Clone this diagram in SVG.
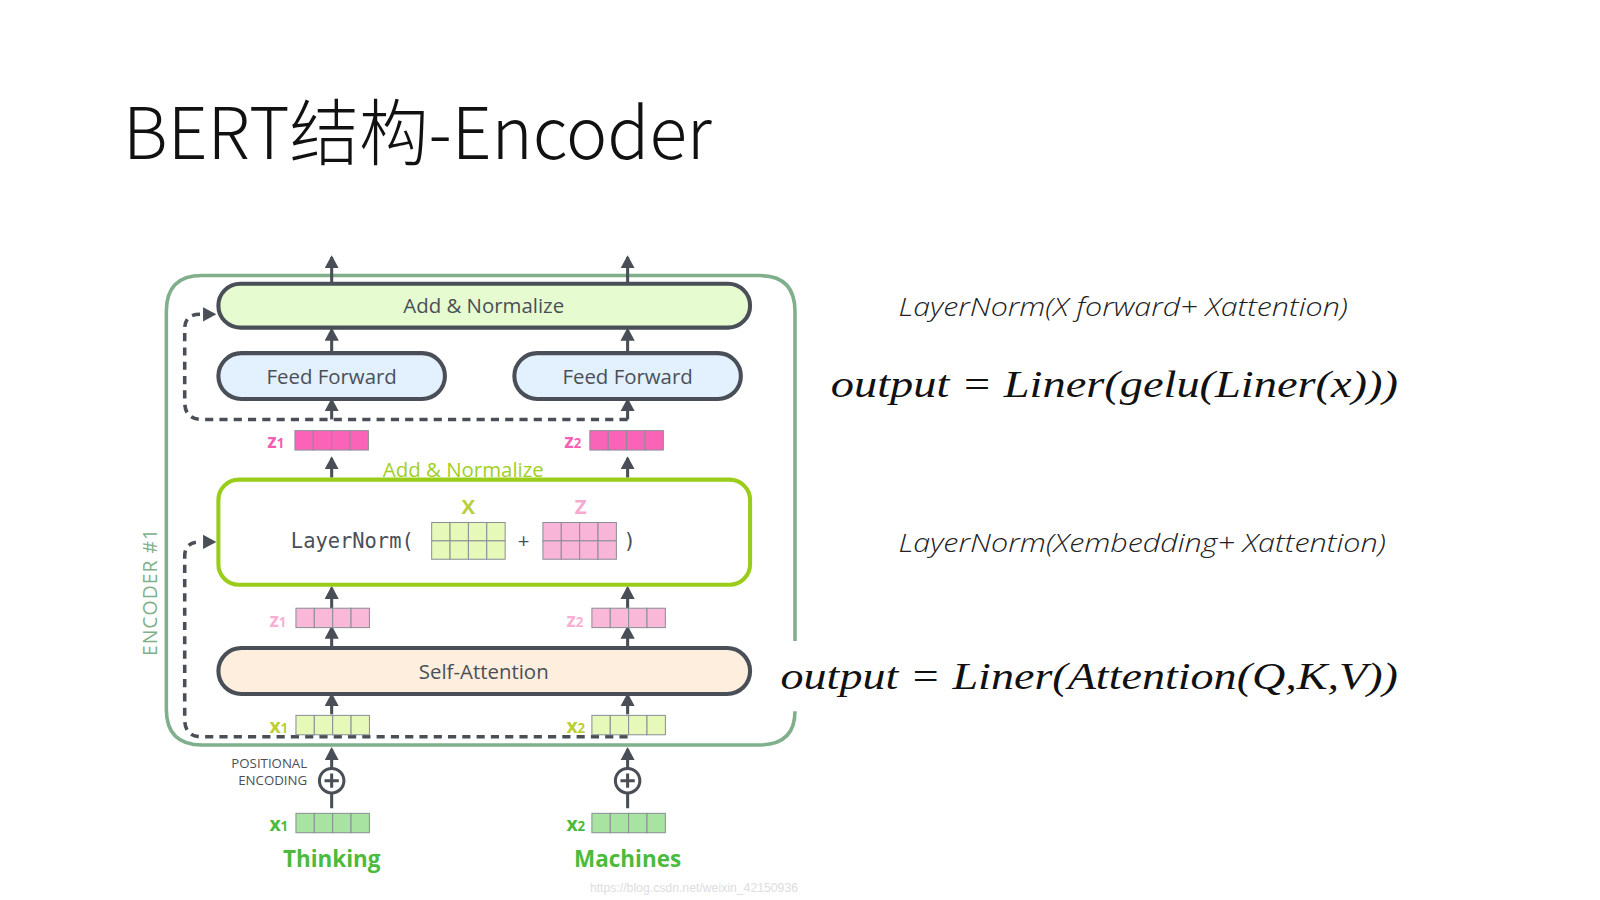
<svg xmlns="http://www.w3.org/2000/svg" width="1600" height="900" viewBox="0 0 1600 900">
<defs>
<style>
.t{font-family:"Open Sans","Noto Sans",sans-serif;fill:#4a4f57}
.box{stroke:#4a4f57;stroke-width:4}
.arr{stroke:#4a4f57;stroke-width:3;fill:none;marker-end:url(#ah)}
.dash{stroke:#4a4f57;stroke-width:3.5;fill:none;stroke-dasharray:8 6}
.cell{stroke:#8a8f96;stroke-width:1}
.lbl{font-family:"Open Sans","Noto Sans",sans-serif;font-weight:700;font-size:19px}
.math{font-family:"Liberation Serif","DejaVu Serif",serif;font-style:italic;font-size:38px;fill:#111}
.note{font-family:"Open Sans","Noto Sans",sans-serif;font-style:italic;font-weight:300;font-size:25px;fill:#222}
</style>
<marker id="ah" markerUnits="userSpaceOnUse" markerWidth="14" markerHeight="14" refX="11" refY="7" orient="auto">
<path d="M0,0 L13,7 L0,14 z" fill="#4a4f57"/>
</marker>
</defs>
<rect width="1600" height="900" fill="#fff"/>
<g transform="scale(1.02564)">
<text x="120" y="155" font-family="Noto Sans CJK SC,Noto Sans,sans-serif" font-weight="300" font-size="70" fill="#111" textLength="574" lengthAdjust="spacingAndGlyphs">BERT结构-Encoder</text>

<g transform="scale(0.995)">
<g id="encoder-frame">
<path d="M779,628 L779,305 Q779,270 744,270 L198,270 Q163,270 163,305 L163,695 Q163,730 198,730 L744,730 Q779,730 779,697" fill="none" stroke="#80b08b" stroke-width="3.5"/>
<text transform="translate(154,580) rotate(-90)" text-anchor="middle" font-family="Open Sans,Noto Sans,sans-serif" font-size="19" fill="#80b08b" letter-spacing="1">ENCODER #1</text>
</g>

<g id="connectors">
<line class="arr" x1="325" y1="277" x2="325" y2="252"/>
<line class="arr" x1="615" y1="277" x2="615" y2="252"/>
<line class="arr" x1="325" y1="346" x2="325" y2="323"/>
<line class="arr" x1="615" y1="346" x2="615" y2="323"/>
<line class="arr" x1="325" y1="411" x2="325" y2="392"/>
<line class="arr" x1="615" y1="411" x2="615" y2="392"/>
<line class="arr" x1="325" y1="468" x2="325" y2="449"/>
<line class="arr" x1="615" y1="468" x2="615" y2="449"/>
<line class="arr" x1="325" y1="596" x2="325" y2="576"/>
<line class="arr" x1="615" y1="596" x2="615" y2="576"/>
<line class="arr" x1="325" y1="634" x2="325" y2="615"/>
<line class="arr" x1="615" y1="634" x2="615" y2="615"/>
<line class="arr" x1="325" y1="700" x2="325" y2="681"/>
<line class="arr" x1="615" y1="700" x2="615" y2="681"/>
<line class="arr" x1="325" y1="753" x2="325" y2="734"/>
<line class="arr" x1="615" y1="753" x2="615" y2="734"/>
<line x1="325" y1="777" x2="325" y2="792" stroke="#4a4f57" stroke-width="3"/>
<line x1="615" y1="777" x2="615" y2="792" stroke="#4a4f57" stroke-width="3"/>
<path class="dash" d="M615,411 L198,411 Q181,411 181,394 L181,322 Q181,308 196,308"/>
<path d="M199,301 L212,308 L199,315 z" fill="#4a4f57"/>
<path class="dash" d="M615,722 L198,722 Q181,722 181,705 L181,545 Q181,531 196,531"/>
<path d="M199,524 L212,531 L199,538 z" fill="#4a4f57"/>
</g>

<g id="add-norm-top">
<rect class="box" x="214" y="278" width="521" height="43" rx="21.5" fill="#e6fbd0"/>
<text class="t" x="474" y="307" text-anchor="middle" font-size="20">Add &amp; Normalize</text>
</g>

<g id="ff1">
<rect class="box" x="214" y="346" width="222" height="45" rx="22.5" fill="#e3f0fd"/>
<text class="t" x="325" y="376" text-anchor="middle" font-size="20">Feed Forward</text>
</g>
<g id="ff2">
<rect class="box" x="504" y="346" width="222" height="45" rx="22.5" fill="#e3f0fd"/>
<text class="t" x="615" y="376" text-anchor="middle" font-size="20">Feed Forward</text>
</g>

<g id="z-dark">
<text class="lbl" x="262" y="439" fill="#f55fb3">z<tspan font-size="13">1</tspan></text>
<g fill="#fb63b8">
<rect class="cell" x="289" y="422" width="18" height="19"/><rect class="cell" x="307" y="422" width="18" height="19"/><rect class="cell" x="325" y="422" width="18" height="19"/><rect class="cell" x="343" y="422" width="18" height="19"/>
</g>
<text class="lbl" x="553" y="439" fill="#f55fb3">z<tspan font-size="13">2</tspan></text>
<g fill="#fb63b8">
<rect class="cell" x="578" y="422" width="18" height="19"/><rect class="cell" x="596" y="422" width="18" height="19"/><rect class="cell" x="614" y="422" width="18" height="19"/><rect class="cell" x="632" y="422" width="18" height="19"/>
</g>
</g>

<g id="layernorm">
<text x="454" y="467" text-anchor="middle" font-family="Open Sans,Noto Sans,sans-serif" font-size="20" fill="#9fcf24">Add &amp; Normalize</text>
<rect x="214" y="470" width="521" height="103" rx="20" fill="#fff" stroke="#9acd1a" stroke-width="4"/>
<text x="285" y="537" font-family="DejaVu Sans Mono,Liberation Mono,monospace" font-size="20" fill="#4a4f57">LayerNorm(</text>
<text x="459" y="504" text-anchor="middle" font-family="Open Sans,Noto Sans,sans-serif" font-weight="700" font-size="20" fill="#b9cf3d">X</text>
<g fill="#e7f9b9">
<rect class="cell" x="423" y="512" width="18" height="18"/><rect class="cell" x="441" y="512" width="18" height="18"/><rect class="cell" x="459" y="512" width="18" height="18"/><rect class="cell" x="477" y="512" width="18" height="18"/>
<rect class="cell" x="423" y="530" width="18" height="18"/><rect class="cell" x="441" y="530" width="18" height="18"/><rect class="cell" x="459" y="530" width="18" height="18"/><rect class="cell" x="477" y="530" width="18" height="18"/>
</g>
<text x="513" y="537" text-anchor="middle" font-family="Open Sans,Noto Sans,sans-serif" font-size="20" fill="#4a4f57">+</text>
<text x="569" y="504" text-anchor="middle" font-family="Open Sans,Noto Sans,sans-serif" font-weight="700" font-size="20" fill="#f7a9d0">Z</text>
<g fill="#f9b5d8">
<rect class="cell" x="532" y="512" width="18" height="18"/><rect class="cell" x="550" y="512" width="18" height="18"/><rect class="cell" x="568" y="512" width="18" height="18"/><rect class="cell" x="586" y="512" width="18" height="18"/>
<rect class="cell" x="532" y="530" width="18" height="18"/><rect class="cell" x="550" y="530" width="18" height="18"/><rect class="cell" x="568" y="530" width="18" height="18"/><rect class="cell" x="586" y="530" width="18" height="18"/>
</g>
<text x="617" y="537" text-anchor="middle" font-family="DejaVu Sans Mono,Liberation Mono,monospace" font-size="20" fill="#4a4f57">)</text>
</g>

<g id="z-light">
<text class="lbl" x="264" y="614" fill="#f9b0d4">z<tspan font-size="13">1</tspan></text>
<g fill="#f9b8d8">
<rect class="cell" x="290" y="596" width="18" height="19"/><rect class="cell" x="308" y="596" width="18" height="19"/><rect class="cell" x="326" y="596" width="18" height="19"/><rect class="cell" x="344" y="596" width="18" height="19"/>
</g>
<text class="lbl" x="555" y="614" fill="#f9b0d4">z<tspan font-size="13">2</tspan></text>
<g fill="#f9b8d8">
<rect class="cell" x="580" y="596" width="18" height="19"/><rect class="cell" x="598" y="596" width="18" height="19"/><rect class="cell" x="616" y="596" width="18" height="19"/><rect class="cell" x="634" y="596" width="18" height="19"/>
</g>
</g>

<g id="self-attention">
<rect class="box" x="214" y="635" width="521" height="45" rx="22.5" fill="#fdeedd"/>
<text class="t" x="474" y="665" text-anchor="middle" font-size="20">Self-Attention</text>
</g>

<g id="x-light">
<text class="lbl" x="264" y="718" fill="#bccf33">x<tspan font-size="13">1</tspan></text>
<g fill="#e7f9b9">
<rect class="cell" x="290" y="701" width="18" height="19"/><rect class="cell" x="308" y="701" width="18" height="19"/><rect class="cell" x="326" y="701" width="18" height="19"/><rect class="cell" x="344" y="701" width="18" height="19"/>
</g>
<text class="lbl" x="555" y="718" fill="#bccf33">x<tspan font-size="13">2</tspan></text>
<g fill="#e7f9b9">
<rect class="cell" x="580" y="701" width="18" height="19"/><rect class="cell" x="598" y="701" width="18" height="19"/><rect class="cell" x="616" y="701" width="18" height="19"/><rect class="cell" x="634" y="701" width="18" height="19"/>
</g>
</g>

<g id="pos-enc">
<text x="301" y="753" text-anchor="end" font-family="Open Sans,Noto Sans,sans-serif" font-size="13" fill="#4a4f57">POSITIONAL</text>
<text x="301" y="769" text-anchor="end" font-family="Open Sans,Noto Sans,sans-serif" font-size="13" fill="#4a4f57">ENCODING</text>
<circle cx="325" cy="765" r="12" fill="#fff" stroke="#4a4f57" stroke-width="3"/>
<path d="M318,765 H332 M325,758 V772" stroke="#4a4f57" stroke-width="3"/>
<circle cx="615" cy="765" r="12" fill="#fff" stroke="#4a4f57" stroke-width="3"/>
<path d="M608,765 H622 M615,758 V772" stroke="#4a4f57" stroke-width="3"/>
</g>

<g id="x-embed">
<text class="lbl" x="264" y="814" fill="#4cbb3c">x<tspan font-size="13">1</tspan></text>
<g fill="#a8e3a1">
<rect class="cell" x="290" y="797" width="18" height="19"/><rect class="cell" x="308" y="797" width="18" height="19"/><rect class="cell" x="326" y="797" width="18" height="19"/><rect class="cell" x="344" y="797" width="18" height="19"/>
</g>
<text class="lbl" x="555" y="814" fill="#4cbb3c">x<tspan font-size="13">2</tspan></text>
<g fill="#a8e3a1">
<rect class="cell" x="580" y="797" width="18" height="19"/><rect class="cell" x="598" y="797" width="18" height="19"/><rect class="cell" x="616" y="797" width="18" height="19"/><rect class="cell" x="634" y="797" width="18" height="19"/>
</g>
<text x="325" y="850" text-anchor="middle" font-family="Open Sans,Noto Sans,sans-serif" font-weight="700" font-size="22" fill="#4cbb3c">Thinking</text>
<text x="615" y="850" text-anchor="middle" font-family="Open Sans,Noto Sans,sans-serif" font-weight="700" font-size="22" fill="#4cbb3c">Machines</text>
<text x="680" y="874" text-anchor="middle" font-family="Liberation Sans,sans-serif" font-size="12" fill="#dddddd">https://blog.csdn.net/weixin_42150936</text>
</g>
</g>

<g id="formulas">
<text class="note" x="876" y="308" textLength="438" lengthAdjust="spacingAndGlyphs">LayerNorm(X forward+ Xattention)</text>
<text class="math" x="810" y="387" textLength="553" lengthAdjust="spacingAndGlyphs">output = Liner(gelu(Liner(x)))</text>
<text class="note" x="876" y="538" textLength="475" lengthAdjust="spacingAndGlyphs">LayerNorm(Xembedding+ Xattention)</text>
<text class="math" x="761" y="672" textLength="602" lengthAdjust="spacingAndGlyphs">output = Liner(Attention(Q,K,V))</text>
</g>
</g>
</svg>
